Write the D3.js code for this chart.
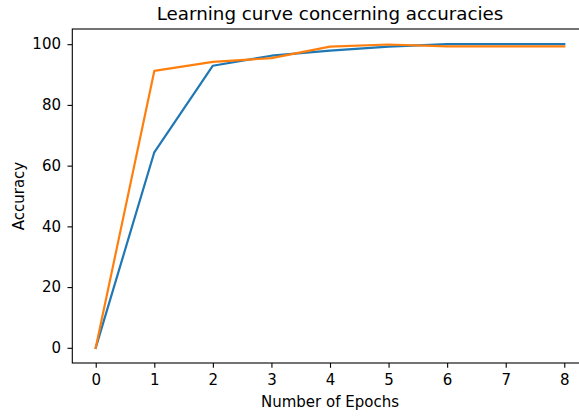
<!DOCTYPE html>
<html>
<head>
<meta charset="utf-8">
<script src="https://cdn.jsdelivr.net/npm/d3@7/dist/d3.min.js"></script>
<style>
  html, body { margin: 0; padding: 0; background: #fff; }
  svg { display: block; font-family: "DejaVu Sans", sans-serif; }
</style>
</head>
<body>
<svg id="chart" width="579" height="416"></svg>
<script>
// Accuracy per training epoch for the two runs
const epochs = [0, 1, 2, 3, 4, 5, 6, 7, 8];
const trainAccuracy = [0, 64.4, 92.9, 96.2, 97.9, 99.2, 100.0, 100.0, 100.0];
const validAccuracy = [0, 91.2, 94.2, 95.4, 99.2, 99.9, 99.3, 99.3, 99.3];
const xTicks = [0, 1, 2, 3, 4, 5, 6, 7, 8];
const yTicks = [0, 20, 40, 60, 80, 100];

const svg = d3.select("#chart");
const plotLeft = 72.3, plotRight = 587.7, plotTop = 29, plotBottom = 363;

const x = d3.scaleLinear().domain([-0.4, 8.4]).range([plotLeft, plotRight]);
const y = d3.scaleLinear().domain([-5, 105]).range([plotBottom, plotTop]);

// frame
svg.append("rect")
  .attr("x", plotLeft).attr("y", plotTop)
  .attr("width", plotRight - plotLeft).attr("height", plotBottom - plotTop)
  .attr("fill", "none").attr("stroke", "#000").attr("stroke-width", 1.1);

const xAxis = svg.append("g")
  .attr("transform", `translate(0,${plotBottom})`)
  .call(d3.axisBottom(x).tickValues(xTicks).tickFormat(d3.format("d")).tickSize(4.8).tickPadding(7));
const yAxis = svg.append("g")
  .attr("transform", `translate(${plotLeft},0)`)
  .call(d3.axisLeft(y).tickValues(yTicks).tickFormat(d3.format("d")).tickSize(4.8).tickPadding(6.5));

[xAxis, yAxis].forEach(g => {
  g.select(".domain").remove();
  g.selectAll(".tick line").attr("stroke", "#000").attr("stroke-width", 1.1);
  g.selectAll(".tick text")
    .attr("fill", "#000")
    .style("font-family", "'DejaVu Sans', sans-serif")
    .style("font-size", "15px");
});

const line = d3.line().x((d, i) => x(epochs[i])).y(d => y(d));

svg.append("path").datum(trainAccuracy)
  .attr("d", line).attr("fill", "none")
  .attr("stroke", "#1f77b4").attr("stroke-width", 2.2)
  .attr("stroke-linejoin", "round").attr("stroke-linecap", "square");
svg.append("path").datum(validAccuracy)
  .attr("d", line).attr("fill", "none")
  .attr("stroke", "#ff7f0e").attr("stroke-width", 2.2)
  .attr("stroke-linejoin", "round").attr("stroke-linecap", "square");

svg.append("text")
  .attr("x", (plotLeft + plotRight) / 2).attr("y", 19.5)
  .attr("text-anchor", "middle")
  .style("font-size", "18.3px")
  .text("Learning curve concerning accuracies");

svg.append("text")
  .attr("x", (plotLeft + plotRight) / 2).attr("y", 406.5)
  .attr("text-anchor", "middle")
  .style("font-size", "15px")
  .text("Number of Epochs");

svg.append("text")
  .attr("transform", `translate(23.5,${(plotTop + plotBottom) / 2}) rotate(-90)`)
  .attr("text-anchor", "middle")
  .style("font-size", "15px")
  .text("Accuracy");
</script>
</body>
</html>
